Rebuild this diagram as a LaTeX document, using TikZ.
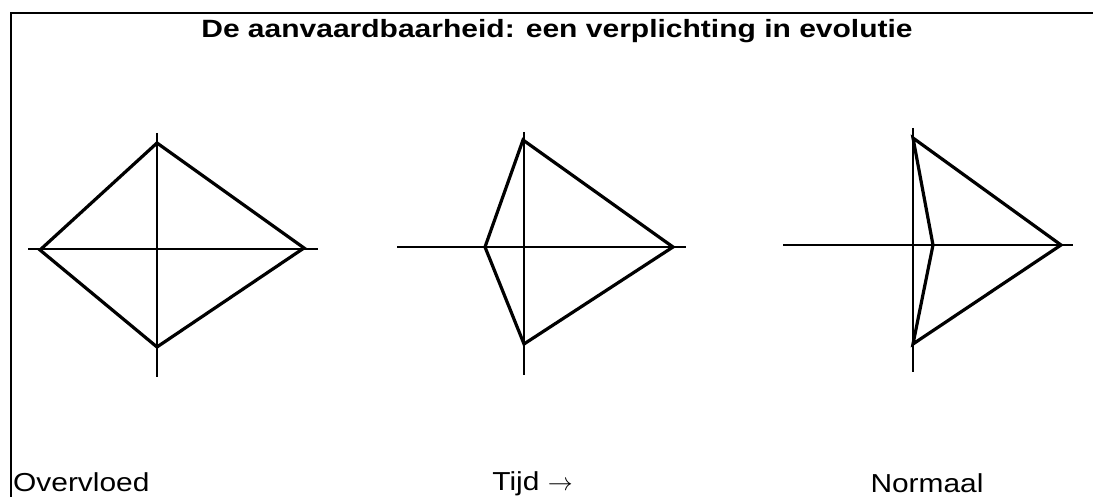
\documentclass[tikz,border=0pt]{standalone}
\usepackage{fontspec}
\setmainfont{Liberation Sans}[FakeStretch=1.15]
\newfontfamily\titlefont{Liberation Sans}[FakeStretch=1.2]
\usepackage{tikz}

\tikzset{
  axisline/.style={line width=2pt},
  kite/.style={line width=3.2pt,line join=miter},
  label/.style={font=\fontsize{26}{30}\selectfont,inner sep=0pt},
}

\begin{document}
\begin{tikzpicture}[x=1pt,y=-1pt]
        \useasboundingbox (0,0) rectangle (1093,497);
        % frame
        \coordinate (frame-tl) at (11,13.5);
        \draw[line width=2pt] (1093,13.5) -- (frame-tl) -- (11,497);
        \node[font=\titlefont\bfseries\fontsize{25}{29}\selectfont,inner sep=0pt,anchor=base]
          (title) at (557,37.5) {De aanvaardbaarheid: een verplichting in evolutie};

        % Overvloed
        \coordinate (ov-n) at (157,133);  \coordinate (ov-s) at (157,377);
        \coordinate (ov-w) at (28,249);   \coordinate (ov-e) at (318,249);
        \coordinate (ov-top) at (157,143); \coordinate (ov-right) at (304,248);
        \coordinate (ov-bot) at (157,347); \coordinate (ov-left) at (40,250);
        \draw[axisline] (ov-n) -- (ov-s) (ov-w) -- (ov-e);
        \draw[kite] (ov-top) -- (ov-right) -- (ov-bot) -- (ov-left) -- cycle;

        % Tijd
        \coordinate (tj-n) at (524,132);  \coordinate (tj-s) at (524,375);
        \coordinate (tj-w) at (397,247);  \coordinate (tj-e) at (686,247);
        \coordinate (tj-top) at (523,140); \coordinate (tj-right) at (673,247);
        \coordinate (tj-bot) at (524,344); \coordinate (tj-left) at (485,247);
        \draw[axisline] (tj-n) -- (tj-s) (tj-w) -- (tj-e);
        \draw[kite] (tj-top) -- (tj-right) -- (tj-bot) -- (tj-left) -- cycle;

        % Normaal
        \coordinate (nm-n) at (913,128);  \coordinate (nm-s) at (913,372);
        \coordinate (nm-w) at (783,245);  \coordinate (nm-e) at (1073,245);
        \coordinate (nm-top) at (913,138); \coordinate (nm-right) at (1061,245);
        \coordinate (nm-bot) at (913,344); \coordinate (nm-left) at (933,245);
        \draw[axisline] (nm-n) -- (nm-s) (nm-w) -- (nm-e);
        \draw[kite] (nm-top) -- (nm-right) -- (nm-bot) -- (nm-left) -- cycle;

        % labels
        \node[label,anchor=base west] (ov-label) at (13,491) {Overvloed};
        \node[label,anchor=base] (tj-label) at (532.5,490) {Tijd $\rightarrow$};
        \node[label,anchor=base] (nm-label) at (927,492) {Normaal};
      \end{tikzpicture}
\end{document}
